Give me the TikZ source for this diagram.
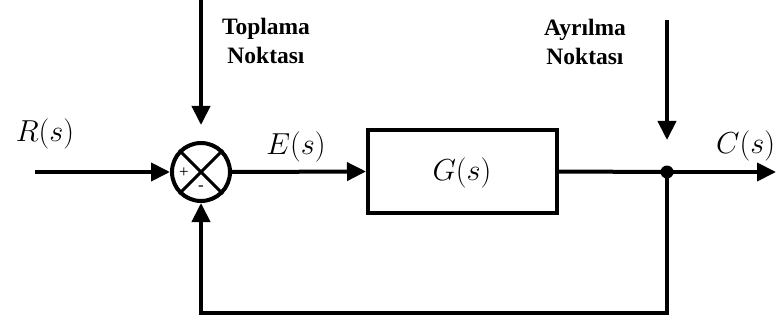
\documentclass[tikz,border=0pt]{standalone}
\usepackage{fontspec}
\newfontfamily\labelfont{Liberation Serif}
\usetikzlibrary{arrows.meta,calc}
% signal names, set large in math italic
\newcommand\signame[1]{\scalebox{1.22}{$#1$}}

\begin{document}
\begin{tikzpicture}[x=1pt, y=-1pt, line width=4pt,
  sig/.style={-{Triangle[length=19pt,width=18pt]}},
  block/.style={draw, minimum width=189pt, minimum height=83pt, inner sep=0pt},
  sumnode/.style={draw, circle, minimum size=58pt, inner sep=0pt},
  caption/.style={font=\labelfont\bfseries\fontsize{23.5}{29}\selectfont, align=center},
  mathlbl/.style={font=\fontsize{24.88}{30}\selectfont, inner sep=0pt},
  signlbl/.style={font=\labelfont\fontsize{17}{17}\selectfont, inner sep=0pt}]

  \useasboundingbox (0,0) rectangle (776,326);

  % blocks
  \node[sumnode] (sum) at (201,172) {};
  \node[block] (plant) at (462.5,171.5) {};
  \coordinate (split) at (667,172);

  % cross inside the summing junction
  \draw[line width=3pt] (sum.north west) -- (sum.south east)
                        (sum.north east) -- (sum.south west);
  \node[signlbl] (plus) at (184,173) {+};
  \node[signlbl] (minus) at (201,188) {-};

  % free ends of the connectors
  \coordinate (rin) at (35,172);
  \coordinate (cout) at (776,172);
  \coordinate (sumtop) at (201,0);
  \coordinate (sumtip) at (201,125);
  \coordinate (splittop) at (667,20);
  \coordinate (splittip) at (667,140);
  \coordinate (fbcorner) at (667,313);

  % signal paths
  \draw[sig] (rin) -- (sum.west);
  \draw[sig] (sum.east) -- (plant.west);
  \draw (plant.east) -- (split);
  \draw[sig] (split) -- (cout);
  \draw[sig] (split) -- (fbcorner) -| (sum.south);
  \fill (split) circle (6.5pt);

  % pointer arrows
  \draw[sig] (sumtop) -- (sumtip);
  \draw[sig] (splittop) -- (splittip);

  % labels
  \node[mathlbl] (rlbl) at (45,134) {\signame{R(s)}};
  \node[mathlbl] (elbl) at (296,147) {\signame{E(s)}};
  \node[mathlbl] (glbl) at (462,173) {\signame{G(s)}};
  \node[mathlbl, anchor=east] (clbl) at (777,146) {\signame{C(s)}};
  \node[caption] (sumcap) at (266,41) {Toplama\\Noktası};
  \node[caption] (splitcap) at (585,42) {Ayrılma\\Noktası};
\end{tikzpicture}
\end{document}
